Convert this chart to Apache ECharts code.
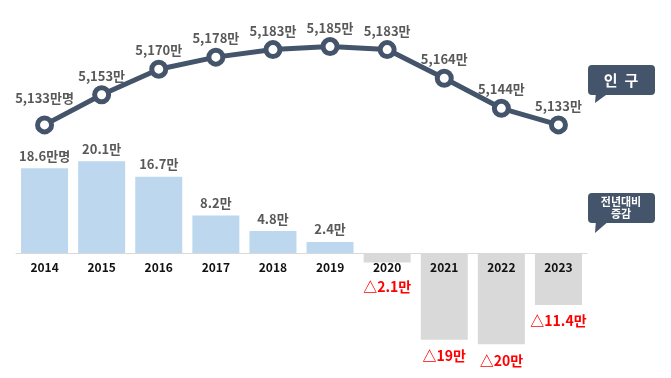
<!DOCTYPE html>
<html>
<head>
<meta charset="utf-8">
<script src="https://cdn.jsdelivr.net/npm/echarts@6/dist/echarts.min.js"></script>
<style>
  html, body { margin: 0; padding: 0; background: #fff; }
  #chart { width: 671px; height: 378px; }
</style>
</head>
<body>
<div id="chart"></div>
<script>
var years = ['2014', '2015', '2016', '2017', '2018', '2019', '2020', '2021', '2022', '2023'];
// 인구 (만명)
var population = [5133, 5153, 5170, 5178, 5183, 5185, 5183, 5164, 5144, 5133];
// 전년대비 증감 (만명)
var change = [18.6, 20.1, 16.7, 8.2, 4.8, 2.4, -2.1, -19, -20, -11.4];

var font = '"Noto Sans CJK KR", "Noto Sans", sans-serif';
var navy = '#44546a';

var myChart = echarts.init(document.getElementById('chart'));

var lineData = population.map(function (v, i) {
    var item = { value: v };
    if (i === 0) item.label = { distance: 11 };
    return item;
});

var barData = change.map(function (v, i) {
    var item = { value: v };
    if (v < 0) {
        item.itemStyle = { color: '#d9d9d9' };
        item.label = {
            position: 'bottom',
            distance: i === 6 ? 17 : 9,
            color: '#ff0000',
            fontSize: 14
        };
    }
    return item;
});

var option = {
    backgroundColor: '#fff',
    animation: false,
    grid: [
        { left: 16, width: 571, top: 24, height: 150.6 },
        { left: 16, width: 571, top: 139, height: 228 }
    ],
    xAxis: [
        {
            type: 'category', gridIndex: 0, data: years, show: false
        },
        {
            type: 'category', gridIndex: 1, data: years, z: 5,
            offset: -114,
            axisLine: { onZero: false, lineStyle: { color: '#d9d9d9', width: 1 } },
            axisTick: { show: false },
            axisLabel: {
                margin: 8,
                color: '#111',
                fontWeight: 'bold',
                fontSize: 12,
                fontFamily: font
            }
        }
    ],
    yAxis: [
        { type: 'value', gridIndex: 0, min: 5100, max: 5200, show: false },
        { type: 'value', gridIndex: 1, min: -25, max: 25, show: false }
    ],
    series: [
        {
            type: 'bar',
            xAxisIndex: 1,
            yAxisIndex: 1,
            barWidth: 47,
            data: barData,
            itemStyle: { color: '#bdd7ee' },
            label: {
                show: true,
                position: 'top',
                distance: 6,
                color: '#595959',
                fontWeight: 'bold',
                fontSize: 13,
                fontFamily: font,
                formatter: function (p) {
                    var v = p.value;
                    if (v < 0) return '△' + String(Math.abs(v)) + '만';
                    return v.toFixed(1) + '만' + (p.dataIndex === 0 ? '명' : '');
                }
            }
        },
        {
            type: 'line',
            xAxisIndex: 0,
            yAxisIndex: 0,
            data: lineData,
            symbol: 'circle',
            symbolSize: 14,
            lineStyle: { color: navy, width: 5 },
            itemStyle: { color: '#fff', borderColor: navy, borderWidth: 5 },
            label: {
                show: true,
                position: 'top',
                distance: 3,
                color: '#595959',
                fontWeight: 'bold',
                fontSize: 13,
                fontFamily: font,
                formatter: function (p) {
                    return p.value.toLocaleString('en-US') + '만' + (p.dataIndex === 0 ? '명' : '');
                }
            },
            z: 4
        }
    ],
    graphic: [
        // 인 구 callout
        {
            type: 'polygon', shape: { points: [[596, 92], [610, 92], [595, 103]] },
            style: { fill: navy }
        },
        {
            type: 'rect', shape: { x: 588, y: 65, width: 67, height: 30, r: 4 },
            style: { fill: navy }
        },
        {
            type: 'text', x: 621, y: 80,
            style: {
                text: '인  구', fill: '#fff', font: 'bold 15px ' + font,
                align: 'center', verticalAlign: 'middle'
            }
        },
        // 전년대비 증감 callout
        {
            type: 'polygon', shape: { points: [[596, 220], [610, 220], [595, 233]] },
            style: { fill: navy }
        },
        {
            type: 'rect', shape: { x: 588, y: 193, width: 67, height: 30, r: 4 },
            style: { fill: navy }
        },
        {
            type: 'text', x: 621, y: 208,
            style: {
                text: '전년대비\n증감', fill: '#fff', font: 'bold 11px ' + font,
                align: 'center', verticalAlign: 'middle', lineHeight: 12
            }
        }
    ]
};

myChart.setOption(option);
</script>
</body>
</html>
